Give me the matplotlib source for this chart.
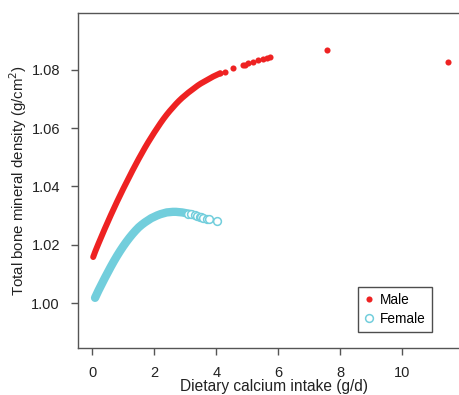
import matplotlib
matplotlib.use("Agg")
import matplotlib.pyplot as plt

plt.rcParams['font.family'] = ['Liberation Sans', 'DejaVu Sans']

# Male: dense fitted band
male_fit_x = [0.03, 0.1, 0.2, 0.3, 0.4, 0.5, 0.6, 0.7, 0.8, 0.9, 1.0,
              1.1, 1.2, 1.3, 1.4, 1.5, 1.6, 1.7, 1.8, 1.9, 2.0,
              2.1, 2.2, 2.3, 2.4, 2.5, 2.6, 2.7, 2.8, 2.9, 3.0,
              3.1, 3.2, 3.3, 3.4, 3.5, 3.6, 3.7, 3.8, 3.9, 4.0, 4.12]
male_fit_y = [1.0158, 1.0178, 1.0204, 1.0229, 1.0254, 1.0278, 1.0302, 1.0325, 1.0348, 1.0370, 1.0392,
              1.0413, 1.0434, 1.0455, 1.0475, 1.0495, 1.0514, 1.0533, 1.0551, 1.0568, 1.0585,
              1.0601, 1.0617, 1.0632, 1.0646, 1.0659, 1.0671, 1.0683, 1.0694, 1.0704, 1.0713,
              1.0722, 1.0730, 1.0738, 1.0746, 1.0753, 1.0759, 1.0765, 1.0771, 1.0777, 1.0782, 1.0788]
# Male: separate points at high intake
male_x = [4.12, 4.28, 4.55, 4.87, 4.92, 5.03, 5.19, 5.35, 5.52, 5.65, 5.73, 7.58, 11.48]
male_y = [1.0788, 1.0792, 1.0805, 1.0816, 1.0818, 1.0822, 1.0828, 1.0833, 1.0838, 1.0842, 1.0845,
          1.0867, 1.0826]

# Female: dense band
female_fit_x = [0.09, 0.2, 0.3, 0.4, 0.5, 0.6, 0.7, 0.8, 0.9, 1.0,
                1.1, 1.2, 1.3, 1.4, 1.5, 1.6, 1.7, 1.8, 1.9, 2.0,
                2.1, 2.2, 2.3, 2.4, 2.5, 2.6, 2.7, 2.8, 2.9, 3.0,
                3.1, 3.2, 3.28]
female_fit_y = [1.0018, 1.0043, 1.0064, 1.0085, 1.0105, 1.0125, 1.0144, 1.0162, 1.0179, 1.0195,
                1.0210, 1.0224, 1.0237, 1.0249, 1.0260, 1.0269, 1.0277, 1.0284, 1.0291, 1.0296,
                1.0301, 1.0305, 1.0308, 1.0311, 1.0312, 1.0313, 1.0313, 1.0312, 1.0311, 1.0309,
                1.0307, 1.0305, 1.0302]
# Female: separate points
female_x = [3.1, 3.2, 3.3, 3.37, 3.47, 3.52, 3.58, 3.69, 3.77, 4.03]
female_y = [1.0307, 1.0305, 1.0302, 1.0299, 1.0296, 1.0295, 1.0293, 1.0290, 1.0287, 1.0281]

xticks = [0, 2, 4, 6, 8, 10]
yticks = [1.00, 1.02, 1.04, 1.06, 1.08]

red = '#EE2222'
cyan = '#72CEDC'

fig = plt.figure(figsize=(4.59, 3.95), dpi=100)
ax = fig.add_axes([78 / 459, 1 - 348 / 395, 385 / 459, 335 / 395])

ax.plot(male_fit_x, male_fit_y, '-', color=red, linewidth=4.3, solid_capstyle='round')
ax.plot(male_x, male_y, 'o', color=red, markersize=4.4, markeredgewidth=0, label='Male')
ax.plot(female_fit_x, female_fit_y, '-', color=cyan, linewidth=6.0, solid_capstyle='round')
ax.plot(female_x, female_y, 'o', markerfacecolor='white', markeredgecolor=cyan,
        markersize=5.6, markeredgewidth=1.1, label='Female')

ax.set_xlim(-0.46, 11.96)
ax.set_ylim(0.9846, 1.0995)
ax.set_xticks(xticks)
ax.set_xticklabels([str(t) for t in xticks])
ax.set_yticks(yticks)
ax.set_yticklabels(['%.2f' % t for t in yticks])

for s in ax.spines.values():
    s.set_color('#555555')
    s.set_linewidth(1.0)
ax.tick_params(direction='out', length=5, width=1, color='#555555',
               labelsize=10.5, labelcolor='#222222', pad=8)

ax.set_xlabel('Dietary calcium intake (g/d)', fontsize=11.2, color='#222222')
ax.xaxis.set_label_coords(0.51, -0.092)
ax.set_ylabel('Total bone mineral density (g/cm$^2$)', fontsize=10.8, color='#222222', labelpad=2)

leg = ax.legend(loc='upper left', bbox_to_anchor=(0.7265, 0.183), borderaxespad=0,
                fontsize=9.8, handlelength=0.7, handletextpad=0.5, borderpad=0.45,
                labelspacing=0.35, fancybox=False, frameon=True)
leg.get_frame().set_edgecolor('#222222')
leg.get_frame().set_linewidth(1.0)

fig.savefig('out.png', dpi=100)
